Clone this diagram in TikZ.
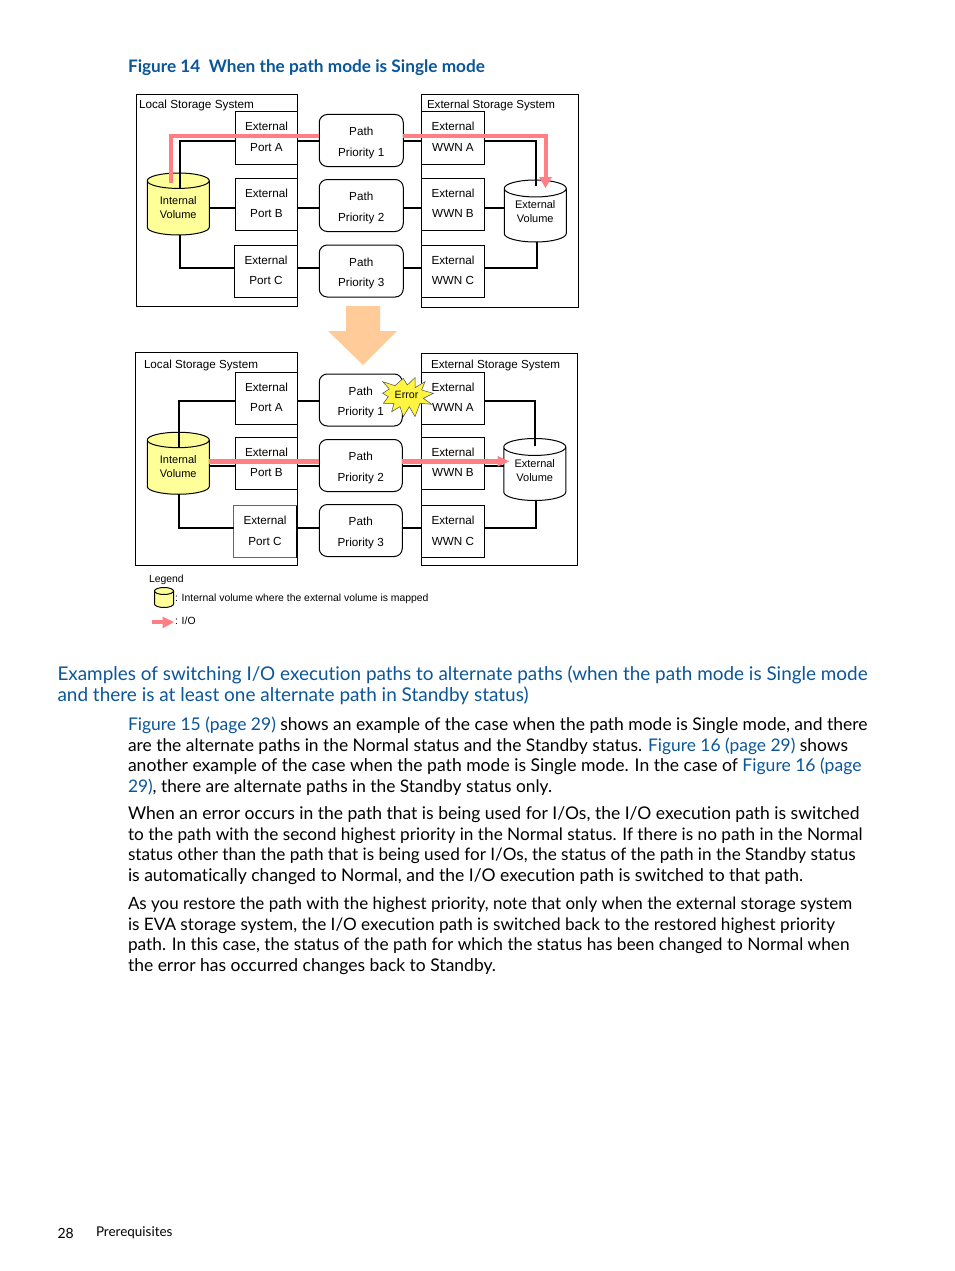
\documentclass[tikz,border=0pt]{standalone}
\usepackage{fontspec}
\usepackage{graphicx}
\setmainfont[Ligatures=NoCommon]{Lato}
\newfontfamily\dgfont{Liberation Sans}
\usetikzlibrary{shapes.geometric}
\definecolor{hpblue}{HTML}{0B5699}
\definecolor{iopink}{HTML}{FF7F85}
\definecolor{cylyellow}{HTML}{FFFF99}
\definecolor{bigarrow}{HTML}{FFCC99}
\tikzset{
  x=1pt,y=-1pt,
  every node/.style={outer sep=0pt},
  frame/.style={draw=black,line width=1pt,fill=white},
  portbox/.style={draw=black,line width=1pt,fill=white,minimum width=62pt,minimum height=52pt,inner sep=0pt,align=center,font=\dgfont\fontsize{11.7}{20.5}\selectfont},
  pathbox/.style={draw=black,line width=1pt,fill=white,rounded corners=8pt,minimum width=84pt,minimum height=52pt,inner sep=0pt,align=center,font=\dgfont\fontsize{11.7}{20.5}\selectfont},
  link/.style={draw=black,line width=2pt},
  io/.style={draw=iopink,line width=4pt},
  iotip/.style={fill=iopink,draw=none},
  cyl/.style={draw=black,line width=1pt,cylinder,shape border rotate=90,aspect=0.42,minimum height=62pt,minimum width=62pt,inner sep=0pt,align=center,font=\dgfont\fontsize{11}{14}\selectfont,cylinder uses custom fill,anchor=shape center},
  intcyl/.style={cyl,cylinder body fill=cylyellow,cylinder end fill=cylyellow},
  extcyl/.style={cyl,cylinder body fill=white,cylinder end fill=white},
  lab/.style={anchor=west,inner sep=0pt,font=\dgfont\fontsize{11.7}{14}\selectfont},
  leglab/.style={anchor=west,inner sep=0pt,font=\dgfont\fontsize{10.4}{13}\selectfont},
  body/.style={anchor=west,inner sep=0pt,font=\fontsize{17.4}{21}\selectfont},
  head/.style={anchor=west,inner sep=0pt,text=hpblue,font=\fontsize{18.9}{21}\selectfont},
}
\newcommand{\lnk}[1]{\textcolor{hpblue}{#1}}
\newcommand{\fitw}[2]{\resizebox{#1pt}{!}{#2}}
\newcommand{\ptxt}[2]{\rule{0pt}{13pt}#1\\#2}
\newcommand{\bxt}[2]{#1\\#2\rule[-2pt]{0pt}{2pt}}
\newcommand{\cylt}[3]{#2\\#3\rule[-#1pt]{0pt}{#1pt}}
\begin{document}
\begin{tikzpicture}
\useasboundingbox (0,0) rectangle (954,1271);
\fill[white] (0,0) rectangle (954,1271);
\node[anchor=west,inner sep=0pt,text=hpblue,font=\bfseries\fontsize{17.2}{21}\selectfont] (figtitle) at (128,68) {\fitw{357}{Figure 14\ \ When the path mode is Single mode}};

% top
\node[frame,minimum width=161pt,minimum height=211.5pt,anchor=north west,inner sep=0pt] (tl) at (136.5,94.5) {};
\node[frame,minimum width=156.5pt,minimum height=212.5pt,anchor=north west,inner sep=0pt] (tr) at (421.5,94.5) {};
\node[lab] (tllab) at (139,105) {\fitw{115}{Local Storage System}};
\node[lab] (trlab) at (427,106) {\fitw{128}{External Storage System}};
\node[portbox] (pa) at (266.5,138) {\bxt{External}{Port A}};
\node[portbox] (pb) at (266.5,204.5) {\bxt{External}{Port B}};
\node[portbox,minimum width=63pt] (pc) at (266,271.5) {\bxt{External}{Port C}};
\node[pathbox] (p1) at (361.25,140.5) {\ptxt{Path}{Priority 1}};
\node[pathbox] (p2) at (361.25,205.5) {\ptxt{Path}{Priority 2}};
\node[pathbox] (p3) at (361.25,271) {\ptxt{Path}{Priority 3}};
\node[portbox,minimum width=63pt] (wa) at (453,138) {\bxt{External}{WWN A}};
\node[portbox,minimum width=63pt] (wb) at (453,204.5) {\bxt{External}{WWN B}};
\node[portbox,minimum width=63pt] (wc) at (453,271.5) {\bxt{External}{WWN C}};
\node[intcyl] (ci) at (178.25,204) {\cylt{2}{Internal}{Volume}};
\node[extcyl] (ce) at (535.25,211) {\cylt{8}{External}{Volume}};
\coordinate (ta) at (180,141);
\coordinate (tb) at (180,188);
\coordinate (tc) at (180,268);
\coordinate (td) at (536,141);
\coordinate (te) at (536,186);
\coordinate (tf) at (537,268);
\coordinate (ty) at (0,208);
\draw[link] (tb) -- (ta) -- (ta-|pa.west);
\draw[link] (pa.east|-ta) -- (p1.west|-ta);
\draw[link] (p1.east|-ta) -- (wa.west|-ta);
\draw[link] (wa.east|-ta) -- (td) -- (te);
\draw[link] (ci.east|-ty) -- (pb.west|-ty);
\draw[link] (pb.east|-ty) -- (p2.west|-ty);
\draw[link] (p2.east|-ty) -- (wb.west|-ty);
\draw[link] (wb.east|-ty) -- (ce.west|-ty);
\draw[link] (tc|-ci.south) -- (tc) -- (tc-|pc.west);
\draw[link] (pc.east|-tc) -- (p3.west|-tc);
\draw[link] (p3.east|-tc) -- (wc.west|-tc);
\draw[link] (wc.east|-tc) -- (tf) -- (tf|-ce.south);
\coordinate (i1) at (170.7,183);
\coordinate (i2) at (170.7,135.7);
\coordinate (i3) at (545.5,135.7);
\coordinate (i4) at (545.5,179);
\draw[io] (i1) -- (i2) -- (i2-|p1.west);
\draw[io] (i2-|p1.east) -- (i3) -- (i4);
\fill[iotip] (539,177) -- (552,177) -- (545.5,188) -- cycle;

% big arrow
\fill[bigarrow] (346,306) -- (380,306) -- (380,331) -- (397,331) -- (363,365) -- (328,331) -- (346,331) -- cycle;

% bottom
\node[frame,minimum width=162pt,minimum height=213pt,anchor=north west,inner sep=0pt] (bl) at (135.5,352.5) {};
\node[frame,minimum width=155.5pt,minimum height=212.5pt,anchor=north west,inner sep=0pt] (br) at (421.5,353) {};
\node[lab] (bllab) at (144,365) {\fitw{114}{Local Storage System}};
\node[lab] (brlab) at (431,365.5) {\fitw{129}{External Storage System}};
\node[portbox] (qa) at (266.5,398.25) {\bxt{External}{Port A}};
\node[portbox] (qb) at (266.5,463.5) {\bxt{External}{Port B}};
\node[portbox,draw=black!60,minimum width=63pt] (qc) at (265,531.75) {\bxt{External}{Port C}};
\draw[black,line width=1.4pt] (297,506) -- (297,557.5);
\node[pathbox,minimum width=83pt] (r1) at (360.75,400) {\ptxt{Path}{Priority 1}};
\node[pathbox,minimum width=83pt] (r2) at (360.75,465.5) {\ptxt{Path}{Priority 2}};
\node[pathbox,minimum width=83pt] (r3) at (360.75,530.5) {\ptxt{Path}{Priority 3}};
\node[portbox,minimum width=63pt] (xa) at (453,398.25) {\bxt{External}{WWN A}};
\node[portbox,minimum width=63pt] (xb) at (453,463.5) {\bxt{External}{WWN B}};
\node[portbox,minimum width=63pt] (xc) at (453,531.75) {\bxt{External}{WWN C}};
\node[intcyl] (di) at (178.25,463.25) {\cylt{2}{Internal}{Volume}};
\node[extcyl] (de) at (534.75,469.5) {\cylt{6}{External}{Volume}};
\coordinate (ba) at (179,401);
\coordinate (bb) at (179,447);
\coordinate (bc) at (179,528);
\coordinate (bd) at (535,401);
\coordinate (be) at (535,446);
\coordinate (bf) at (536,528);
\coordinate (by) at (0,466);
\coordinate (bp) at (0,461.3);
\draw[link] (bb) -- (ba) -- (ba-|qa.west);
\draw[link] (qa.east|-ba) -- (r1.west|-ba);
\draw[link] (r1.east|-ba) -- (xa.west|-ba);
\draw[link] (xa.east|-ba) -- (bd) -- (be);
\draw[link] (di.east|-by) -- (qb.west|-by);
\draw[link] (qb.east|-by) -- (r2.west|-by);
\draw[link] (r2.east|-by) -- (xb.west|-by);
\draw[link] (xb.east|-by) -- (de.west|-by);
\draw[link] (bc|-di.south) -- (bc) -- (bc-|qc.west);
\draw[link] (qc.east|-bc) -- (r3.west|-bc);
\draw[link] (r3.east|-bc) -- (xc.west|-bc);
\draw[link] (xc.east|-bc) -- (bf) -- (bf|-de.south);
\draw[io,line width=5pt] (di.east|-bp) -- (r2.west|-bp);
\coordinate (bq) at (498,461.3);
\draw[io,line width=5pt] (r2.east|-bp) -- (bq);
\fill[iotip] (497.7,456) -- (509.3,461.3) -- (497.7,466.5) -- cycle;
% error star
\begin{scope}[shift={(370,365)},x=0.3333pt,y=-0.3333pt]
\draw[fill=yellow!75!white,draw=black!70,line width=.5pt,line join=miter]
 (38,50) -- (75,62) -- (100,40) -- (112,60) -- (135,38) -- (135,68) -- (165,50) -- (155,75) -- (190,85) -- (160,100) -- (185,118) -- (150,115) -- (135,155) -- (118,125) -- (100,155) -- (90,125) -- (65,140) -- (72,115) -- (40,115) -- (55,95) -- (38,85) -- (58,72) -- cycle;
\end{scope}
\node[inner sep=0pt,font=\dgfont\fontsize{10.6}{13}\selectfont] (err) at (406.5,395) {Error};

% legend
\node[leglab] (leg) at (149,579.5) {Legend};
\draw[black,line width=1pt,fill=cylyellow] (154.5,591) arc[start angle=180,end angle=360,x radius=9.5,y radius=3.5] -- (173.5,604) arc[start angle=0,end angle=180,x radius=9.5,y radius=3.5] -- cycle;
\draw[black,line width=1pt] (154.5,591) arc[start angle=180,end angle=0,x radius=9.5,y radius=3.5];
\node[leglab] (lt) at (175,598.5) {\fitw{253.5}{: Internal volume where the external volume is mapped}};
\coordinate (la) at (152,622);
\coordinate (lb) at (164,622);
\draw[iopink,line width=3.5pt] (la) -- (lb);
\fill[iotip] (162.7,616.7) -- (174,622) -- (162.7,628.3) -- cycle;
\node[leglab] (lio) at (175,620.5) {: I/O};

% text
\node[head] (h1) at (57.5,675) {\fitw{810}{Examples of switching I/O execution paths to alternate paths (when the path mode is Single mode}};
\node[head] (h2) at (57.5,696) {\fitw{471}{and there is at least one alternate path in Standby status)}};
\node[body] (t1) at (128,725) {\fitw{739.5}{\lnk{Figure 15 (page 29)} shows an example of the case when the path mode is Single mode, and there}};
\node[body] (t2) at (128,746) {\fitw{720}{are the alternate paths in the Normal status and the Standby status. \lnk{Figure 16 (page 29)} shows}};
\node[body] (t3) at (128,766) {\fitw{733.5}{another example of the case when the path mode is Single mode. In the case of \lnk{Figure 16 (page}}};
\node[body] (t4) at (128,787) {\fitw{424}{\lnk{29)}, there are alternate paths in the Standby status only.}};
\node[body] (t5) at (128,815) {\fitw{731.5}{When an error occurs in the path that is being used for I/Os, the I/O execution path is switched}};
\node[body] (t6) at (128,836) {\fitw{734.5}{to the path with the second highest priority in the Normal status. If there is no path in the Normal}};
\node[body] (t7) at (128,856) {\fitw{727.5}{status other than the path that is being used for I/Os, the status of the path in the Standby status}};
\node[body] (t8) at (128,877) {\fitw{675}{is automatically changed to Normal, and the I/O execution path is switched to that path.}};
\node[body] (t9) at (128,905) {\fitw{724}{As you restore the path with the highest priority, note that only when the external storage system}};
\node[body] (t10) at (128,926) {\fitw{707}{is EVA storage system, the I/O execution path is switched back to the restored highest priority}};
\node[body] (t11) at (128,946) {\fitw{721.5}{path. In this case, the status of the path for which the status has been changed to Normal when}};
\node[body] (t12) at (128,967) {\fitw{368}{the error has occurred changes back to Standby.}};
\node[anchor=west,inner sep=0pt,font=\fontsize{14}{18}\selectfont] (pg) at (57.5,1233) {28};
\node[anchor=west,inner sep=0pt,font=\fontsize{14}{18}\selectfont] (sec) at (96,1233) {\fitw{76.5}{Prerequisites}};
\end{tikzpicture}
\end{document}
